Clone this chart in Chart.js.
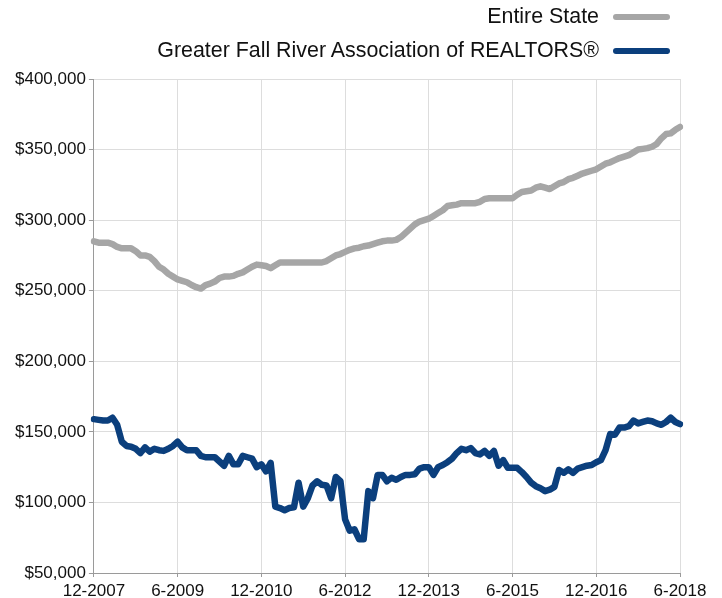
<!DOCTYPE html>
<html>
<head>
<meta charset="utf-8">
<script src="https://cdn.jsdelivr.net/npm/chart.js@4/dist/chart.umd.min.js"></script>
<style>
  body { margin: 0; background: #fff; font-family: "Liberation Sans", Arial, sans-serif; }
  #wrap { position: relative; width: 722px; height: 598px; }
  #legend { position: absolute; top: 0; right: 0; width: 722px; }
  .item { position: absolute; right: 52px; display: flex; align-items: center; font-size: 21.4px; color: #111; white-space: nowrap; }
  .swatch { width: 57px; height: 6px; border-radius: 3px; margin-left: 14px; }
</style>
</head>
<body>
<div id="wrap">
  <canvas id="line-chart"></canvas>
  <div id="legend"></div>
</div>
<script>
// monthly series, 12-2007 .. 6-2018 (in $1000s)
const startMonth = 12, startYear = 2007, monthCount = 127;
const tickLabels = ['12-2007', '6-2009', '12-2010', '6-2012', '12-2013', '6-2015', '12-2016', '6-2018'];

const months = [];
for (let i = 0; i < monthCount; i++) {
    const m = (startMonth - 1 + i) % 12 + 1;
    const y = startYear + Math.floor((startMonth - 1 + i) / 12);
    months.push(m + '-' + y);
}

const entireState = [
    285, 284, 284, 284, 283, 281, 280, 280, 280, 278,
    275, 275, 274, 271, 267, 265, 262, 260, 258, 257,
    256, 254, 252.5, 251.5, 254, 255, 256.5, 259, 260, 260,
    260.5, 262, 263, 265, 267, 268.5, 268, 267.5, 266, 268,
    270, 270, 270, 270, 270, 270, 270, 270, 270, 270,
    271, 273, 275, 276, 277.5, 279, 280, 280.5, 281.5, 282,
    283, 284, 285, 285.5, 285.5, 286, 288, 291, 294, 297,
    299, 300, 301, 303, 305, 307, 310, 310.5, 311, 312,
    312, 312, 312, 313, 315, 315.5, 315.5, 315.5, 315.5, 315.5,
    315.5, 318, 320, 320.5, 321, 323, 324, 323, 322, 324,
    326, 327, 329, 330, 331.5, 333, 334, 335, 336, 338,
    340, 341, 342.5, 344, 345, 346, 348, 350, 350.5, 351,
    352, 354, 358, 361, 361.5, 364, 366
];

const fallRiver = [
    159, 158.5, 158, 158, 160, 155, 143, 140, 139.5, 138,
    135, 139, 136, 138, 137, 136.5, 138, 140, 143, 139,
    137, 137, 137, 133, 132, 132, 132, 129, 126, 133,
    127, 127, 133, 132, 131, 125, 127, 122, 128, 97,
    96, 94.5, 96, 96.5, 114, 97, 103, 112, 115, 112.5,
    112, 103, 118, 115, 88, 80, 81, 74, 74, 108,
    103, 119.5, 119.5, 115, 117.5, 116, 118, 119.5, 119.5, 120,
    124, 125, 125, 119.5, 125, 126.5, 128.5, 131, 135, 138,
    137, 138.5, 135, 134, 136.5, 133, 136.5, 126, 130, 124.5,
    124.5, 124.5, 121.5, 118, 114, 111.5, 110, 108, 109, 111,
    123, 121, 123.5, 121, 124, 125, 126, 126.5, 128.5, 130,
    137, 148.5, 148, 153, 153, 154, 158, 156, 157, 158,
    157.5, 156, 155, 157, 160, 157, 155.5
];

const seriesNames = ['Entire State', 'Greater Fall River Association of REALTORS®'];
const seriesColors = ['#a6a6a6', '#0b3f7d'];

const ctx = document.getElementById('line-chart').getContext('2d');
Chart.defaults.font.family = '"Liberation Sans", Arial, sans-serif';
Chart.defaults.color = '#111';

const myChart = new Chart(ctx, {
    type: 'line',
    data: {
        labels: months,
        datasets: [
            { label: seriesNames[0], data: entireState.map(v => v * 1000), borderColor: seriesColors[0] },
            { label: seriesNames[1], data: fallRiver.map(v => v * 1000), borderColor: seriesColors[1] }
        ]
    },
    options: {
        responsive: true,
        maintainAspectRatio: false,
        animation: false,
        layout: { padding: { top: 79, right: 42, left: 12, bottom: 0 } },
        elements: {
            point: { radius: 0 },
            line: { borderWidth: 6.5, tension: 0, borderJoinStyle: 'round', borderCapStyle: 'round' }
        },
        plugins: { legend: { display: false }, tooltip: { enabled: false } },
        scales: {
            x: {
                afterFit: scale => { scale.height = 25; },
                grid: {
                    color: c => (c.index === monthCount - 1 ? '#9a9a9a' : '#dddddd'),
                    tickColor: '#9a9a9a',
                    tickLength: 4
                },
                border: { color: '#9a9a9a' },
                ticks: {
                    autoSkip: false,
                    maxRotation: 0,
                    padding: 4,
                    font: { size: 17 },
                    callback: function(value) {
                        const lab = this.getLabelForValue(value);
                        return tickLabels.includes(lab) ? lab : null;
                    }
                }
            },
            y: {
                min: 50000,
                max: 400000,
                grid: { color: '#dddddd', tickColor: '#9a9a9a', tickLength: 5 },
                border: { color: '#9a9a9a' },
                ticks: {
                    stepSize: 50000,
                    padding: 3,
                    font: { size: 17 },
                    callback: v => '$' + v.toLocaleString('en-US')
                }
            }
        }
    }
});

// legend: text with a line sample to its right
const legendBox = document.getElementById('legend');
myChart.data.datasets.forEach((ds, i) => {
    const row = document.createElement('div');
    row.className = 'item';
    row.style.top = (4 + i * 34) + 'px';
    row.innerHTML = '<span>' + ds.label + '</span><span class="swatch" style="background:' + ds.borderColor + '"></span>';
    legendBox.appendChild(row);
});
</script>
</body>
</html>
